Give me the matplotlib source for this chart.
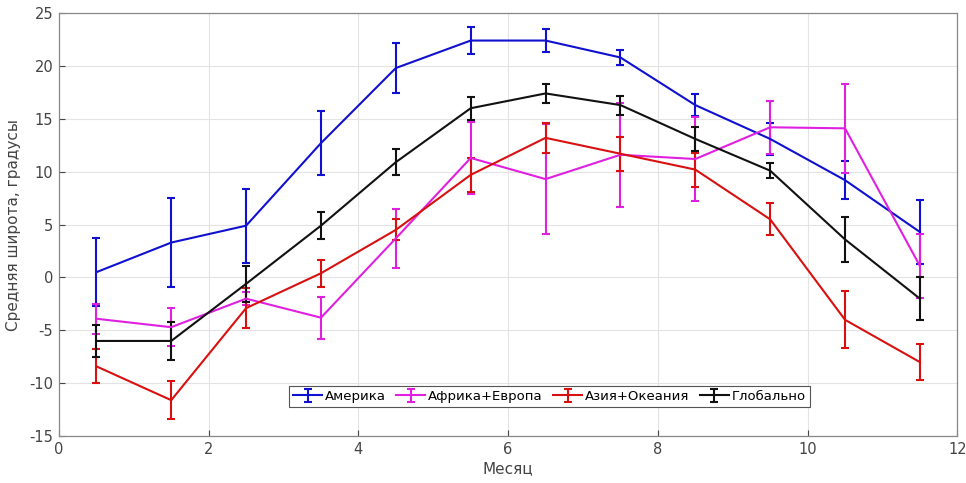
import numpy as np
import matplotlib
matplotlib.use("Agg")
import matplotlib.pyplot as plt

plt.rcParams['font.family'] = ['DejaVu Sans']
plt.rcParams['axes.unicode_minus'] = False

# months (bin centres)
months = [0.5, 1.5, 2.5, 3.5, 4.5, 5.5, 6.5, 7.5, 8.5, 9.5, 10.5, 11.5]

america = [0.5, 3.3, 4.9, 12.7, 19.8, 22.4, 22.4, 20.8, 16.3, 13.1, 9.2, 4.3]
america_err = [3.2, 4.2, 3.5, 3.0, 2.4, 1.3, 1.1, 0.7, 1.0, 1.5, 1.8, 3.0]

afr_eur = [-3.9, -4.7, -2.0, -3.8, 3.7, 11.3, 9.3, 11.6, 11.2, 14.2, 14.1, 1.1]
afr_eur_err = [1.4, 1.8, 0.6, 2.0, 2.8, 3.4, 5.2, 4.9, 4.0, 2.5, 4.2, 3.0]

asia_oc = [-8.4, -11.6, -2.9, 0.4, 4.5, 9.7, 13.2, 11.7, 10.2, 5.5, -4.0, -8.0]
asia_oc_err = [1.6, 1.8, 1.9, 1.3, 1.0, 1.6, 1.4, 1.6, 1.6, 1.5, 2.7, 1.7]

glob = [-6.0, -6.0, -0.6, 4.9, 10.9, 16.0, 17.4, 16.3, 13.1, 10.1, 3.6, -2.0]
glob_err = [1.5, 1.8, 1.7, 1.3, 1.2, 1.1, 0.9, 0.9, 1.1, 0.7, 2.1, 2.0]

series = [
    ("Америка", america, america_err, "#1010D0"),
    ("Африка+Европа", afr_eur, afr_eur_err, "#E020E0"),
    ("Азия+Океания", asia_oc, asia_oc_err, "#D81010"),
    ("Глобально", glob, glob_err, "#111111"),
]

fig = plt.figure(figsize=(9.66, 4.83), dpi=100)
ax = fig.add_axes([0.061, 0.097, 0.930, 0.876])

for name, vals, err, col in series:
    ax.errorbar(months, vals, yerr=err, color=col, lw=1.5, elinewidth=1.5,
                capsize=3, capthick=1.5, label=name)

ax.set_xlim(0, 12)
ax.set_ylim(-15, 25)
ax.set_xticks(range(0, 13, 2))
ax.set_yticks(range(-15, 26, 5))
ax.grid(True, color='#e3e3e3', lw=0.8)
ax.tick_params(direction='in', labelsize=10.5, colors='#444444', length=4, pad=4)
for s in ax.spines.values():
    s.set_color('#888888')
    s.set_linewidth(0.9)
ax.set_xlabel("Месяц", fontsize=11, color='#444444', labelpad=3)
ax.set_ylabel("Средняя широта, градусы", fontsize=11, color='#444444', labelpad=6)

leg = ax.legend(loc='center', bbox_to_anchor=(0.546, 0.094), ncol=4,
                fontsize=9.5, fancybox=False, framealpha=1, edgecolor='#555555',
                handlelength=2.2, handletextpad=0.2, columnspacing=0.8,
                borderpad=0.3, borderaxespad=0)
leg.get_frame().set_linewidth(0.8)

fig.savefig("out.png", dpi=100)
